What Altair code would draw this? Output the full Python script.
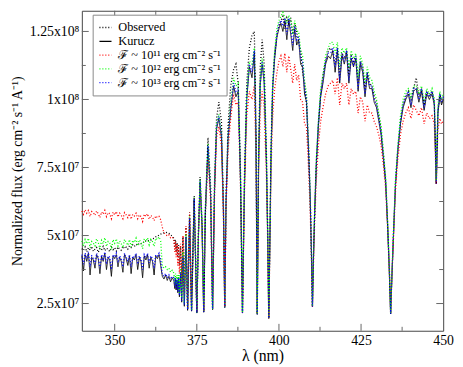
import altair as alt
import pandas as pd

# ---------------- data (flux in units of 1e7 erg cm^-2 s^-1 A^-1) ----------------
WL_A = [340.0, 340.5, 341.0, 341.5, 342.0, 342.5, 343.0, 343.5, 344.0, 344.5,
        345.0, 345.5, 346.0, 346.5, 347.0, 347.5, 348.0, 348.5, 349.0, 349.5,
        350.0, 350.5, 351.0, 351.5, 352.0, 352.5, 353.0, 353.5, 354.0, 354.5,
        355.0, 355.5, 356.0, 356.5, 357.0, 357.5, 358.0, 358.5, 359.0, 359.5,
        360.0, 360.5, 361.0, 361.5, 362.0, 362.5, 363.0, 363.5, 364.0]
WL_B = [364.5, 365.0, 365.5, 366.0, 366.5, 367.0, 367.5, 368.0, 368.3, 368.5,
        368.7, 369.0, 369.2, 369.45, 369.7, 370.05, 370.4, 370.8, 371.2, 371.7,
        372.2, 372.8, 373.4]
WL_C = [374.2, 375.0, 375.5, 376.0, 376.6, 377.1, 377.6, 378.4, 379.2, 379.8,
        380.4, 381.0, 381.7, 382.5, 383.1, 383.5, 383.9, 384.5, 385.3, 386.2,
        386.9, 387.6, 388.3, 388.9, 389.5, 390.2, 391.0, 391.8, 392.5, 393.0,
        393.4, 393.8, 394.3, 394.9, 395.5, 396.2, 396.6, 396.9, 397.2, 397.6,
        398.1, 398.7, 399.4]
WL_D = [400.0, 400.6, 401.2, 401.8, 402.4, 403.0, 403.6, 404.2, 404.8, 405.4,
        406.0, 406.6, 407.2, 407.8, 408.4, 409.0, 409.5, 409.9, 410.2, 410.5,
        410.9, 411.4, 412.0, 412.7, 413.4, 414.2, 415.0, 415.7]
WL_E = [416.4, 417.1, 417.8, 418.5, 419.2, 419.9, 420.6, 421.3, 422.0, 422.7,
        423.4, 424.1, 424.8, 425.5, 426.2, 426.9, 427.6, 428.3, 429.0, 429.7,
        430.4, 431.1, 431.8, 432.5, 433.1, 433.6, 434.0, 434.4, 434.9, 435.5,
        436.2, 437.0, 437.8, 438.6]
WL_F = [439.4, 440.2, 441.0, 441.8, 442.6, 443.4, 444.2, 445.0, 445.8, 446.6,
        447.3, 447.9, 448.4, 449.0, 449.5, 450.0]

OBS_A = [4.52, 4.45, 4.58, 4.40, 4.55, 4.47, 4.60, 4.42, 4.50, 4.56,
         4.38, 4.52, 4.47, 4.60, 4.44, 4.53, 4.49, 4.41, 4.57, 4.48,
         4.55, 4.43, 4.58, 4.50, 4.46, 4.60, 4.52, 4.57, 4.50, 4.62,
         4.56, 4.66, 4.60, 4.68, 4.64, 4.72, 4.70, 4.76, 4.74, 4.80,
         4.79, 4.84, 4.83, 4.88, 4.90, 4.95, 4.97, 5.02, 5.05]
OBS_B = [5.08, 5.10, 5.12, 5.10, 5.08, 5.02, 4.98, 4.90, 4.55, 4.85,
         4.40, 4.75, 4.20, 4.65, 3.90, 4.60, 3.40, 4.95, 2.90, 5.30,
         2.30, 5.85, 2.25]
OBS_C = [6.45, 2.17, 5.2, 7.15, 5.5, 2.2, 6.0, 8.6, 6.8, 2.29,
         7.0, 9.3, 9.9, 9.2, 6.2, 2.37, 6.5, 9.0, 10.5, 11.1,
         11.3, 10.6, 7.4, 2.17, 7.2, 10.6, 11.9, 12.35, 12.5, 9.2,
         2.13, 8.0, 11.2, 12.2, 11.3, 8.0, 5.0, 1.96, 4.5, 8.2,
         10.6, 11.7, 12.4]
OBS_D = [12.7, 12.9, 13.05, 12.6, 13.0, 12.8, 13.0, 12.4, 12.8, 12.5,
         12.1, 11.8, 11.0, 10.6, 9.8, 8.3, 6.5, 4.3, 2.4, 4.2,
         6.0, 7.8, 9.1, 10.2, 10.9, 11.4, 11.8, 11.9]
OBS_E = [11.7, 11.3, 11.9, 10.8, 11.7, 11.5, 11.8, 10.9, 11.6, 11.4,
         11.6, 10.6, 11.4, 11.2, 10.4, 11.0, 10.6, 10.5, 10.1, 9.9,
         9.4, 8.9, 8.0, 7.0, 5.4, 3.8, 2.13, 3.6, 5.2, 7.0,
         8.2, 9.2, 9.8, 10.1]
OBS_F = [10.3, 10.0, 10.4, 10.8, 10.1, 10.4, 9.8, 10.3, 10.1, 10.3,
         9.9, 6.9, 9.6, 10.2, 9.9, 10.1]

KUR_A = [4.25, 3.70, 4.30, 4.05, 4.35, 3.55, 4.20, 4.10, 3.80, 4.30,
         4.15, 3.60, 4.25, 4.05, 4.35, 3.75, 4.20, 4.10, 3.50, 4.25,
         4.15, 4.30, 3.85, 4.20, 4.05, 3.65, 4.30, 4.15, 3.90, 4.25,
         3.60, 4.20, 4.10, 4.30, 3.75, 4.20, 4.05, 3.45, 4.25, 4.10,
         4.30, 3.80, 4.20, 4.05, 3.55, 4.25, 4.15, 4.30, 3.90]
KUR_B = [3.50, 3.40, 3.55, 3.35, 3.50, 3.30, 3.45, 3.35, 3.05, 3.40,
         3.00, 3.35, 2.90, 3.40, 2.75, 3.60, 2.55, 4.20, 2.40, 4.90,
         2.25, 5.60, 2.22]
KUR_C = [6.3, 2.15, 5.0, 6.95, 5.3, 2.18, 5.8, 8.2, 6.5, 2.28,
         6.7, 8.9, 9.3, 8.6, 5.9, 2.35, 6.2, 8.5, 9.6, 10.5,
         10.1, 10.3, 7.0, 2.15, 6.8, 10.0, 11.2, 10.8, 11.7, 8.6,
         2.1, 7.6, 10.5, 11.3, 10.6, 7.6, 4.8, 1.95, 4.4, 8.0,
         10.4, 11.5, 12.3]
KUR_D = [12.6, 12.8, 12.5, 12.9, 12.2, 12.9, 12.4, 11.8, 12.6, 12.0,
         12.2, 11.3, 11.2, 10.2, 9.9, 8.1, 6.4, 4.3, 2.38, 4.1,
         5.9, 7.6, 9.0, 10.1, 10.6, 11.3, 11.6, 11.5]
KUR_E = [11.8, 11.0, 11.8, 10.6, 11.6, 11.3, 11.7, 10.6, 11.5, 11.2,
         11.5, 10.3, 11.3, 11.0, 10.1, 10.9, 10.4, 10.4, 9.9, 9.7,
         9.2, 8.7, 7.8, 6.9, 5.3, 3.7, 2.12, 3.5, 5.1, 6.9,
         8.1, 9.1, 9.7, 10.0]
KUR_F = [10.2, 9.7, 10.3, 10.4, 9.9, 10.3, 9.6, 10.2, 10.0, 10.2,
         9.8, 6.9, 9.5, 10.1, 9.8, 10.0]

F11_A = [5.90, 5.78, 5.95, 5.82, 5.92, 5.70, 5.88, 5.84, 5.74, 5.90,
         5.80, 5.66, 5.86, 5.78, 5.92, 5.70, 5.84, 5.80, 5.62, 5.86,
         5.76, 5.88, 5.68, 5.82, 5.74, 5.62, 5.84, 5.76, 5.66, 5.80,
         5.60, 5.78, 5.72, 5.82, 5.62, 5.76, 5.70, 5.52, 5.78, 5.70,
         5.80, 5.60, 5.74, 5.68, 5.55, 5.72, 5.66, 5.70, 5.58]
F11_B = [5.30, 5.10, 5.05, 4.98, 5.02, 4.92, 4.95, 4.85, 4.40, 4.80,
         4.20, 4.70, 3.90, 4.60, 3.60, 4.70, 3.20, 5.00, 2.80, 5.35,
         2.35, 5.85, 2.28]
F11_C = [6.3, 2.2, 5.1, 6.8, 5.3, 2.22, 5.7, 7.8, 6.3, 2.3,
         6.5, 8.6, 9.0, 8.3, 5.8, 2.37, 6.0, 8.1, 9.3, 10.2,
         9.8, 9.9, 6.8, 2.17, 6.5, 9.4, 10.3, 10.0, 10.5, 8.0,
         2.12, 7.2, 9.6, 10.3, 9.7, 7.1, 4.6, 1.96, 4.2, 7.4,
         9.4, 10.4, 11.0]
F11_D = [11.4, 11.6, 11.2, 11.7, 11.0, 11.6, 11.1, 10.6, 11.3, 10.7,
         10.9, 10.0, 9.9, 9.1, 9.0, 7.5, 6.0, 4.1, 2.38, 3.9,
         5.6, 7.1, 8.3, 9.2, 9.7, 10.2, 10.5, 10.6]
F11_E = [10.7, 10.2, 10.8, 9.8, 10.6, 10.4, 10.6, 9.8, 10.4, 10.2,
         10.3, 9.5, 10.1, 9.9, 9.2, 9.8, 9.5, 9.5, 9.2, 9.0,
         8.7, 8.3, 7.6, 6.7, 5.2, 3.7, 2.13, 3.5, 5.0, 6.7,
         7.8, 8.7, 9.2, 9.5]
F11_F = [9.7, 9.3, 9.8, 9.6, 9.4, 9.7, 9.1, 9.5, 9.3, 9.4,
         9.1, 6.9, 8.9, 9.3, 9.1, 9.2]

F12_A = [4.80, 4.60, 4.85, 4.70, 4.90, 4.55, 4.78, 4.72, 4.62, 4.88,
         4.75, 4.50, 4.82, 4.70, 4.92, 4.60, 4.78, 4.74, 4.48, 4.85,
         4.72, 4.88, 4.62, 4.80, 4.70, 4.55, 4.86, 4.75, 4.64, 4.85,
         4.58, 4.82, 4.74, 4.90, 4.62, 4.84, 4.76, 4.52, 4.88, 4.78,
         4.92, 4.66, 4.86, 4.78, 4.60, 4.90, 4.85, 4.95, 4.80]
F12_B = [3.90, 3.80, 3.85, 3.75, 3.80, 3.65, 3.72, 3.62, 3.30, 3.60,
         3.20, 3.55, 3.10, 3.55, 2.90, 3.80, 2.70, 4.40, 2.50, 5.05,
         2.30, 5.70, 2.25]
F12_C = [6.4, 2.17, 5.1, 7.05, 5.4, 2.21, 5.9, 8.35, 6.6, 2.3,
         6.8, 9.1, 9.45, 8.8, 6.0, 2.37, 6.3, 8.7, 9.9, 10.8,
         10.5, 10.6, 7.1, 2.17, 6.9, 10.2, 11.4, 11.3, 11.9, 8.8,
         2.12, 7.8, 10.7, 11.5, 10.9, 7.8, 4.9, 1.97, 4.5, 8.1,
         10.6, 11.8, 12.6]
F12_D = [12.9, 13.05, 13.2, 13.0, 12.8, 13.1, 12.9, 12.4, 12.9, 12.5,
         12.5, 11.8, 11.6, 10.7, 10.2, 8.4, 6.6, 4.4, 2.4, 4.2,
         6.0, 7.8, 9.2, 10.4, 10.9, 11.6, 11.9, 12.1]
F12_E = [12.1, 11.7, 12.1, 11.2, 11.9, 11.7, 11.9, 11.1, 11.8, 11.5,
         11.7, 10.8, 11.6, 11.3, 10.6, 11.2, 10.8, 10.7, 10.3, 10.0,
         9.5, 9.0, 8.1, 7.1, 5.5, 3.8, 2.14, 3.6, 5.2, 7.1,
         8.3, 9.4, 10.0, 10.3]
F12_F = [10.4, 10.1, 10.5, 10.5, 10.2, 10.5, 9.9, 10.4, 10.2, 10.4,
         10.0, 7.0, 9.8, 10.3, 10.0, 10.2]

F13_A = [4.30, 3.95, 4.35, 4.15, 4.40, 3.85, 4.25, 4.20, 3.95, 4.35,
         4.20, 3.80, 4.30, 4.15, 4.40, 3.95, 4.25, 4.20, 3.75, 4.30,
         4.20, 4.35, 4.00, 4.25, 4.15, 3.85, 4.35, 4.20, 4.05, 4.30,
         3.85, 4.25, 4.20, 4.35, 3.95, 4.25, 4.15, 3.75, 4.30, 4.20,
         4.35, 4.00, 4.25, 4.15, 3.80, 4.30, 4.25, 4.35, 4.10]
F13_B = [3.60, 3.50, 3.60, 3.45, 3.55, 3.40, 3.50, 3.45, 3.15, 3.45,
         3.05, 3.40, 2.95, 3.45, 2.80, 3.65, 2.60, 4.25, 2.45, 4.95,
         2.28, 5.65, 2.24]
F13_C = [6.35, 2.16, 5.05, 7.0, 5.35, 2.2, 5.85, 8.3, 6.55, 2.3,
         6.75, 9.0, 9.4, 8.7, 5.95, 2.36, 6.25, 8.6, 9.7, 10.6,
         10.3, 10.4, 7.05, 2.16, 6.85, 10.1, 11.3, 11.0, 11.8, 8.7,
         2.11, 7.7, 10.6, 11.4, 10.7, 7.7, 4.85, 1.96, 4.45, 8.05,
         10.5, 11.6, 12.4]
F13_D = [12.75, 12.9, 12.7, 13.0, 12.4, 13.0, 12.6, 12.0, 12.7, 12.2,
         12.3, 11.5, 11.4, 10.4, 10.0, 8.2, 6.5, 4.35, 2.39, 4.15,
         5.95, 7.7, 9.1, 10.2, 10.7, 11.4, 11.7, 11.7]
F13_E = [11.9, 11.2, 11.9, 10.7, 11.7, 11.4, 11.8, 10.7, 11.6, 11.3,
         11.6, 10.4, 11.4, 11.1, 10.2, 11.0, 10.5, 10.5, 10.0, 9.8,
         9.3, 8.8, 7.9, 7.0, 5.35, 3.75, 2.13, 3.55, 5.15, 7.0,
         8.2, 9.2, 9.8, 10.1]
F13_F = [10.3, 9.8, 10.4, 10.4, 10.0, 10.4, 9.7, 10.3, 10.1, 10.3,
         9.9, 6.9, 9.6, 10.2, 9.9, 10.1]

SERIES = ["Observed", "Kurucz",
          "ℱ ~ 10¹¹ erg cm⁻² s⁻¹",
          "ℱ ~ 10¹² erg cm⁻² s⁻¹",
          "ℱ ~ 10¹³ erg cm⁻² s⁻¹"]
COLORS = ["#000000", "#000000", "#ff0000", "#00ff00", "#0000ff"]
DASHES = [[1, 2], [1, 0], [1, 2], [1, 2], [1, 2]]
WIDTHS = [1.3, 0.9, 1.3, 1.3, 1.3]

X_MAJOR = [350, 375, 400, 425, 450]
X_MINOR = [362.5, 387.5, 412.5, 437.5]
Y_MAJOR = [2.5, 5, 7.5, 10, 12.5]
Y_MINOR = [3.75, 6.25, 8.75, 11.25]
Y_LABELS = ["2.5x10⁷", "5x10⁷", "7.5x10⁷", "1x10⁸", "1.25x10⁸"]

# ---------------- build table ----------------
WL = WL_A + WL_B + WL_C + WL_D + WL_E + WL_F
VALUES = {
    SERIES[0]: OBS_A + OBS_B + OBS_C + OBS_D + OBS_E + OBS_F,
    SERIES[1]: KUR_A + KUR_B + KUR_C + KUR_D + KUR_E + KUR_F,
    SERIES[2]: F11_A + F11_B + F11_C + F11_D + F11_E + F11_F,
    SERIES[3]: F12_A + F12_B + F12_C + F12_D + F12_E + F12_F,
    SERIES[4]: F13_A + F13_B + F13_C + F13_D + F13_E + F13_F,
}
rows = []
for s in SERIES:
    assert len(VALUES[s]) == len(WL), (s, len(VALUES[s]), len(WL))
    for w, v in zip(WL, VALUES[s]):
        rows.append({"wl": w, "flux": v, "series": s})
df = pd.DataFrame(rows)

FONT = "Liberation Serif"
W, H = 367, 325
FRAME = "#444444"
TICK = "#666666"

XS = alt.Scale(domain=[340, 450], nice=False, zero=False)
YS = alt.Scale(domain=[1.5, 13.26], nice=False, zero=False)

label_expr = " : ".join(
    f"datum.value == {v} ? '{l}'" for v, l in zip(Y_MAJOR, Y_LABELS)
) + " : ''"

x_axis = alt.Axis(values=X_MAJOR, format="d", ticks=False, domain=False, grid=False,
                  labelFont=FONT, labelFontSize=14, labelColor="black", labelPadding=3,
                  labelFlush=False, title="λ  (nm)", titleFont=FONT, titleFontSize=16,
                  titleFontWeight="normal", titleColor="black", titlePadding=0)
y_axis = alt.Axis(values=Y_MAJOR, labelExpr=label_expr, ticks=False, domain=False, grid=False,
                  labelFont=FONT, labelFontSize=14, labelColor="black", labelPadding=3,
                  title="Normalized flux (erg cm⁻² s⁻¹ A⁻¹)", titleFont=FONT, titleFontSize=14,
                  titleFontWeight="normal", titleColor="black", titlePadding=5)

legend = alt.Legend(orient="none", legendX=11, legendY=4, title=None, symbolType="stroke",
                    symbolSize=150, symbolStrokeWidth=1.3, labelFont=FONT, labelFontSize=12.5,
                    labelColor="black", labelOffset=6, labelLimit=300, rowPadding=0,
                    padding=6, strokeColor="#888888", fillColor="white")

color = alt.Color("series:N", scale=alt.Scale(domain=SERIES, range=COLORS), legend=legend)
dash = alt.StrokeDash("series:N", scale=alt.Scale(domain=SERIES, range=DASHES), legend=legend)

layers = []
for s, wdt in zip(SERIES, WIDTHS):
    layers.append(
        alt.Chart(df).transform_filter(alt.datum.series == s)
        .mark_line(strokeWidth=wdt, interpolate="linear")
        .encode(x=alt.X("wl:Q", scale=XS, axis=x_axis),
                y=alt.Y("flux:Q", scale=YS, axis=y_axis),
                color=color, strokeDash=dash, order="wl:Q")
    )


def xticks(vals, y0, y1):
    return alt.Chart(pd.DataFrame({"wl": vals})).mark_rule(color=TICK, strokeWidth=1).encode(
        x=alt.X("wl:Q", scale=XS), y=alt.value(y0), y2=alt.value(y1))


def yticks(vals, x0, x1):
    return alt.Chart(pd.DataFrame({"flux": vals})).mark_rule(color=TICK, strokeWidth=1).encode(
        y=alt.Y("flux:Q", scale=YS), x=alt.value(x0), x2=alt.value(x1))


layers += [
    xticks(X_MAJOR[:-1], H, H - 7), xticks(X_MINOR, H, H - 4),
    xticks(X_MAJOR[:-1], 0, 7), xticks(X_MINOR, 0, 4),
    yticks(Y_MAJOR, 0, 7), yticks(Y_MINOR, 0, 4),
    yticks(Y_MAJOR, W, W - 7), yticks(Y_MINOR, W, W - 4),
]

chart = alt.layer(*layers).properties(
    width=W, height=H,
    autosize=alt.AutoSizeParams(type="none"),
    padding={"left": 75, "top": 0, "right": 12, "bottom": 34},
).configure_view(stroke=FRAME, strokeWidth=1)

chart.save("out.html", embed_options={"renderer": "svg", "actions": False})
